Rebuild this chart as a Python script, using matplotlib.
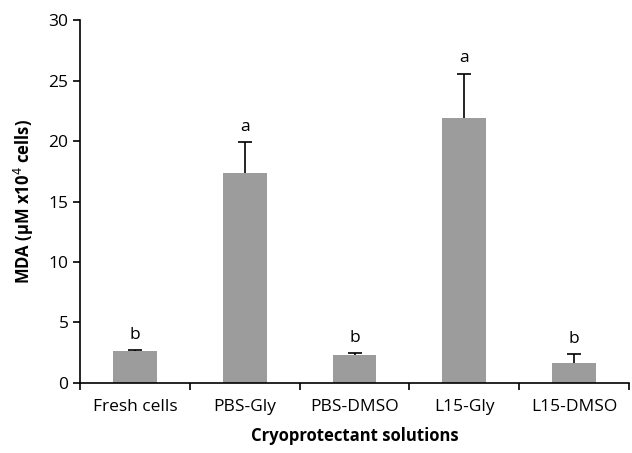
import numpy as np
import matplotlib.pyplot as plt

# values
groups = ["Fresh cells", "PBS-Gly", "PBS-DMSO", "L15-Gly", "L15-DMSO"]
mda = [2.6, 17.4, 2.3, 21.9, 1.6]
sd = [0.1, 2.5, 0.15, 3.7, 0.75]
letters = ["b", "a", "b", "a", "b"]

plt.rcParams['font.family'] = ['Open Sans', 'DejaVu Sans']

fig = plt.figure(figsize=(6.32, 4.53), dpi=100)
ax = fig.add_axes([0.127, 0.155, 0.868, 0.80])

x = np.arange(len(groups))
ax.bar(x, mda, width=0.4, color='#9c9c9c', zorder=2)
eb = ax.errorbar(x, mda, yerr=[np.zeros(len(sd)), sd], fmt='none', ecolor='black',
                 elinewidth=1.2, capsize=5, capthick=1.2, zorder=3)
# only the upper cap is drawn in the original
eb[1][0].set_visible(False)

for xi, m, s, lab in zip(x, mda, sd, letters):
    ax.text(xi, m + s + 0.6, lab, ha='center', va='bottom', fontsize=12.5)

ax.set_xlim(-0.5, len(groups) - 0.5)
ax.set_ylim(0, 30)
ax.set_yticks(range(0, 31, 5))
ax.set_xticks(x)
ax.set_xticklabels(groups, fontsize=12.5)
ax.tick_params(axis='x', length=0, pad=12)
ax.set_xticks(np.arange(-0.5, len(groups), 1), minor=True)
ax.tick_params(axis='x', which='minor', length=5, direction='out', width=1.2)
ax.tick_params(axis='y', labelsize=12.5, length=5, direction='out', width=1.2)

for side in ['top', 'right']:
    ax.spines[side].set_visible(False)
for side in ['left', 'bottom']:
    ax.spines[side].set_linewidth(1.2)

ax.set_ylabel("MDA (µM x10$^4$ cells)", fontsize=12, fontweight='bold', labelpad=9)
ax.set_xlabel("Cryoprotectant solutions", fontsize=12, fontweight='bold', labelpad=8)

plt.savefig('out.png', dpi=100)
